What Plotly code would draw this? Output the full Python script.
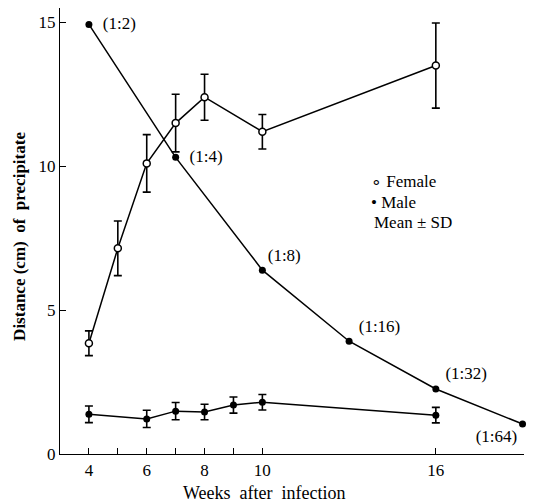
import plotly.graph_objects as go

# ---- data ----
weeks_female = [4, 5, 6, 7, 8, 10, 16]
female_mean = [3.85, 7.15, 10.1, 11.5, 12.4, 11.2, 13.5]
female_sd = [0.43, 0.95, 1.0, 1.0, 0.8, 0.6, 1.48]

weeks_male = [4, 6, 7, 8, 9, 10, 16]
male_mean = [1.38, 1.22, 1.49, 1.46, 1.70, 1.80, 1.35]
male_sd = [0.29, 0.30, 0.30, 0.27, 0.28, 0.27, 0.27]

titer_weeks = [4, 7, 10, 13, 16, 19]
titer_values = [14.93, 10.31, 6.39, 3.92, 2.26, 1.04]
titer_labels = ["  (1:2)", "  (1:4)", "(1:8)", " (1:16)", " (1:32)", "(1:64)"]
titer_label_pos = ["middle right", "middle right", "top right", "top right", "top right", "bottom left"]

x_tickvals = [4, 5, 6, 7, 8, 9, 10, 16]
x_ticktext = ["4", "", "6", "", "8", "", "10", "16"]
y_tickvals = [0, 5, 10, 15]

FONT = "Liberation Serif"

fig = go.Figure()

# titer line (male, filled, labelled)
fig.add_trace(go.Scatter(
    x=titer_weeks, y=titer_values, mode="lines+markers+text",
    text=titer_labels, textposition=titer_label_pos,
    textfont=dict(family=FONT, size=17, color="black"),
    line=dict(color="black", width=1.5),
    marker=dict(symbol="circle", size=7, color="black"),
    cliponaxis=False, showlegend=False))

# male mean ± SD
fig.add_trace(go.Scatter(
    x=weeks_male, y=male_mean, mode="lines+markers",
    error_y=dict(type="data", array=male_sd, color="black", thickness=1.6, width=4),
    line=dict(color="black", width=1.5),
    marker=dict(symbol="circle", size=7, color="black"),
    cliponaxis=False, showlegend=False))

# female mean ± SD
fig.add_trace(go.Scatter(
    x=weeks_female, y=female_mean, mode="lines+markers",
    error_y=dict(type="data", array=female_sd, color="black", thickness=1.6, width=4),
    line=dict(color="black", width=1.5),
    marker=dict(symbol="circle", size=7, color="white", line=dict(color="black", width=1.5)),
    cliponaxis=False, showlegend=False))

annotations = [
    dict(text="∘ Female", x=0.665, y=0.61, xref="paper", yref="paper",
         xanchor="left", yanchor="middle", showarrow=False,
         font=dict(family=FONT, size=17, color="black")),
    dict(text="• Male", x=0.665, y=0.565, xref="paper", yref="paper",
         xanchor="left", yanchor="middle", showarrow=False,
         font=dict(family=FONT, size=17, color="black")),
    dict(text="Mean ± SD", x=0.672, y=0.52, xref="paper", yref="paper",
         xanchor="left", yanchor="middle", showarrow=False,
         font=dict(family=FONT, size=17, color="black")),
    dict(text="<b>Distance (cm)  of  precipitate</b>", x=-0.086, y=0.487,
         xref="paper", yref="paper", textangle=-90, showarrow=False,
         xanchor="center", yanchor="middle",
         font=dict(family=FONT, size=17, color="black")),
    dict(text="Weeks  after  infection", x=0.44, y=-0.088,
         xref="paper", yref="paper", showarrow=False,
         xanchor="center", yanchor="middle",
         font=dict(family=FONT, size=18, color="black")),
]

fig.update_layout(
    width=536, height=504,
    margin=dict(l=60, r=12, t=8, b=50),
    paper_bgcolor="white", plot_bgcolor="white",
    font=dict(family=FONT, size=17, color="black"),
    annotations=annotations,
    xaxis=dict(range=[3, 19.05], tickvals=x_tickvals, ticktext=x_ticktext,
               ticks="inside", ticklen=6, tickcolor="black",
               showline=True, linecolor="black", linewidth=1.2,
               showgrid=False, zeroline=False,
               tickfont=dict(family=FONT, size=17, color="black")),
    yaxis=dict(range=[0, 15.5], tickvals=y_tickvals,
               ticks="inside", ticklen=6, tickcolor="black",
               showline=True, linecolor="black", linewidth=1.2,
               showgrid=False, zeroline=False,
               tickfont=dict(family=FONT, size=17, color="black")),
)

fig.write_html("out.html",
               config={"displayModeBar": False},
               post_script="document.body.style.margin='0';document.body.style.overflow='hidden';")
